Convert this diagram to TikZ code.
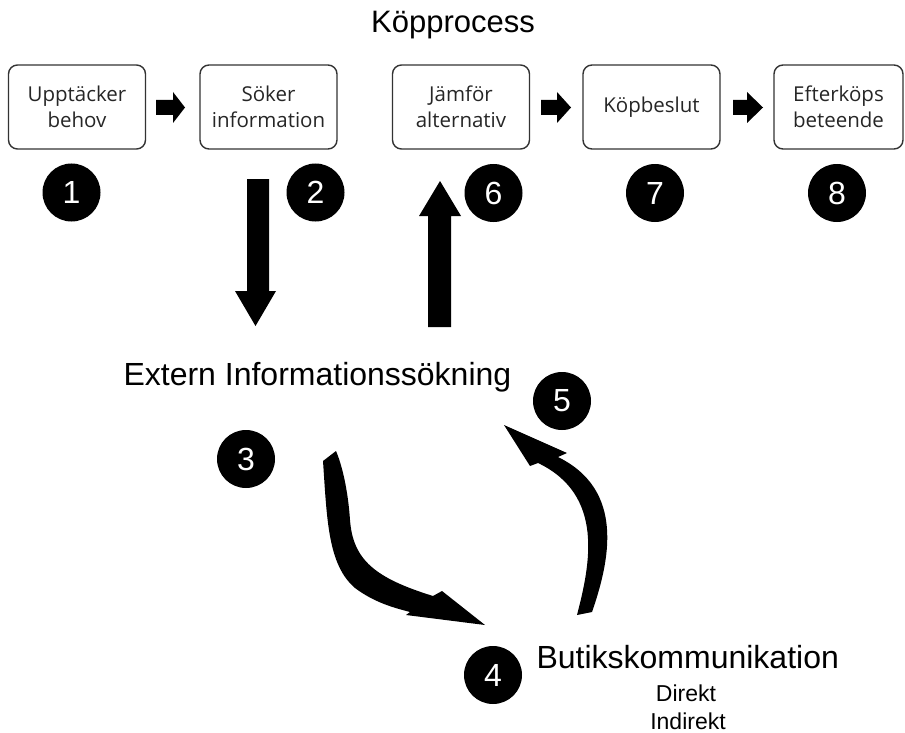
\documentclass[tikz,border=0pt]{standalone}
\usepackage{fontspec}
\setmainfont{Liberation Sans}
\newfontfamily\boxfont{Open Sans}
\tikzset{
  box/.style={draw=black!80, line width=1.4pt, rounded corners=9pt, minimum width=137pt, minimum height=84pt, inner sep=0pt, align=center, text=black!85, font=\boxfont\fontsize{20.5}{26.5}\selectfont},
  num/.style={circle, fill=black, minimum size=58pt, inner sep=0pt, text=white, font=\fontsize{32}{32}\selectfont},
  big/.style={font=\fontsize{32}{36}\selectfont},
  small/.style={font=\fontsize{23}{26}\selectfont},
  blk/.style={fill=black, draw=none}
}
\begin{document}
\begin{tikzpicture}[x=1pt,y=-1pt]
\useasboundingbox (0,0) rectangle (905,733);
\node[anchor=base, font=\fontsize{31}{34}\selectfont] (title) at (453,33) {Köpprocess};
\node[box] (b1) at (77,107) {Upptäcker\\behov};
\node[box] (b2) at (268.5,107) {Söker\\information};
\node[box] (b3) at (461,107) {Jämför\\alternativ};
\node[box] (b4) at (651.5,107) {Köpbeslut};
\node[box, minimum width=129pt] (b5) at (838.5,107) {Efterköps\\beteende};
% small block arrows
\fill[blk] (156,100) -- (173,100) -- (173,92) -- (185,107.5) -- (173,123) -- (173,115) -- (156,115) -- cycle;
\fill[blk] (541,100) -- (557,100) -- (557,92) -- (571,107.5) -- (557,123) -- (557,115) -- (541,115) -- cycle;
\fill[blk] (733,100) -- (747,100) -- (747,92) -- (763,107.5) -- (747,123) -- (747,115) -- (733,115) -- cycle;
% numbers
\node[num] (n1) at (71.5,192.5) {1};
\node[num] (n2) at (315.5,192.5) {2};
\node[num] (n6) at (493.5,193) {6};
\node[num] (n7) at (655,193) {7};
\node[num] (n8) at (837,193) {8};
\node[num] (n3) at (246,459) {3};
\node[num] (n5) at (562,401) {5};
\node[num] (n4) at (493,675) {4};
% big vertical arrows
\fill[blk] (247,179) -- (269,179) -- (269,291) -- (276,291) -- (255.5,326) -- (235,291) -- (247,291) -- cycle;
\fill[blk] (428,327) -- (451,327) -- (451,216) -- (461,216) -- (440,181) -- (419,216) -- (428,216) -- cycle;
% texts
\node[big, anchor=base west] (ext) at (120,385) {Extern Informationssökning};
\node[big, anchor=base west] (but) at (533,668) {Butikskommunikation};
\node[small, anchor=base] (dir) at (686,701) {Direkt};
\node[small, anchor=base] (ind) at (688,729) {Indirekt};
% curved arrow 3 -> 4
\fill[blk] (323,461) .. controls (327,520) and (328,565) .. (355,588)
  .. controls (375,603) and (395,608) .. (410,612)
  -- (406,615) -- (485,625) -- (442,591) -- (433,596)
  .. controls (375,578) and (353,560) .. (350,520)
  .. controls (348,490) and (342,465) .. (336,451) -- cycle;
% curved arrow 4 -> 5
\fill[blk] (577,615) .. controls (590,565) and (605,495) .. (538,463)
  -- (530,466) -- (504,425) -- (567,453) -- (558,457)
  .. controls (625,490) and (610,560) .. (592,612) -- cycle;
\end{tikzpicture}
\end{document}
